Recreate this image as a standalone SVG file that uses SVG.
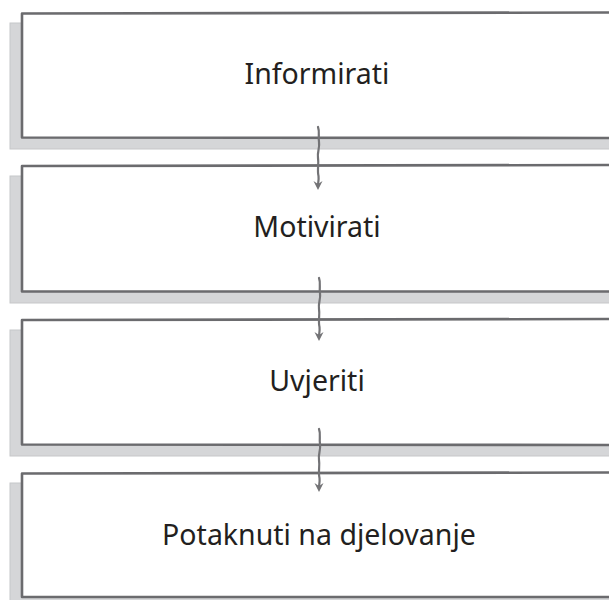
<svg xmlns="http://www.w3.org/2000/svg" width="609" height="600" viewBox="0 0 609 600">
<style>
.shadow{fill:#d5d6d8;stroke:#c6c7c9;stroke-width:1}
.box{fill:#ffffff;stroke:#6b6b6e;stroke-width:2.6;stroke-linejoin:round}
.label{font-family:"Source Sans Pro","Noto Sans",sans-serif;font-size:28.5px;fill:#231f20;text-anchor:middle}
.conn{fill:none;stroke:#737376;stroke-width:2.2;stroke-linecap:round}
.head{fill:#737376}
</style>
<rect width="609" height="600" fill="#ffffff"/>
<g id="node1">
<rect class="shadow" x="10" y="23" width="610" height="126"/>
<path class="box" d="M22,13.5 L612,12.5 L612,138 L22,137.5 Z"/>
<text class="label" x="317" y="84">Informirati</text>
</g>
<g id="node2">
<rect class="shadow" x="10" y="176" width="610" height="127"/>
<path class="box" d="M22,166 L612,165 L612,291.5 L22,291.5 Z"/>
<text class="label" x="317" y="237">Motivirati</text>
</g>
<g id="node3">
<rect class="shadow" x="10" y="330" width="610" height="126"/>
<path class="box" d="M22,320 L612,319 L612,445 L22,444.5 Z"/>
<text class="label" x="317" y="391">Uvjeriti</text>
</g>
<g id="node4">
<rect class="shadow" x="10" y="483" width="610" height="127"/>
<path class="box" d="M22,473.5 L612,472.5 L612,597 L22,597 Z"/>
<text class="label" x="319" y="545">Potaknuti na djelovanje</text>
</g>
<g id="connectors">
<path class="conn" d="M318,127 C320,132 318,137 319,142 C320,148 317,152 318,158 C319,164 317,170 318.5,176 C319,180 318,183 318,185"/>
<path class="head" d="M313.5,181 L318,190 L322.5,181 L318,184 Z"/>
<path class="conn" d="M319,278 C321,283 319,288 320,293 C321,299 318,303 319,309 C320,315 318,321 319.5,327 C320,331 319,334 319,336"/>
<path class="head" d="M314.5,332 L319,341 L323.5,332 L319,335 Z"/>
<path class="conn" d="M319,429 C321,434 319,439 320,444 C321,450 318,454 319,460 C320,466 318,472 319.5,478 C320,482 319,485 319,487"/>
<path class="head" d="M314.5,483 L319,492 L323.5,483 L319,486 Z"/>
</g>
</svg>
